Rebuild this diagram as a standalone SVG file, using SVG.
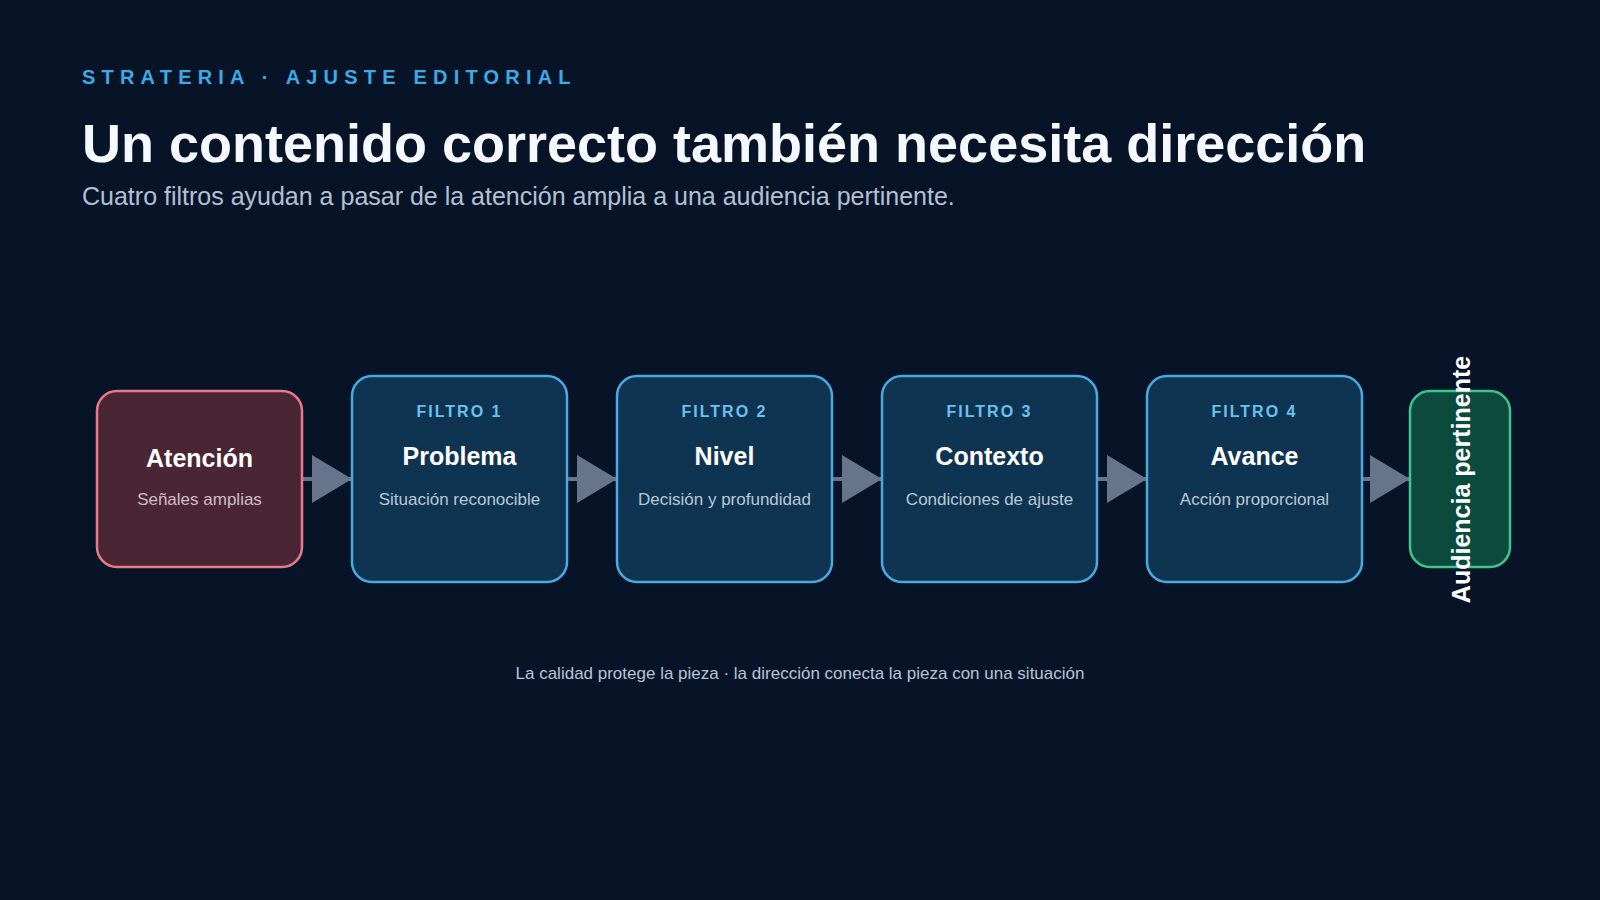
<svg xmlns="http://www.w3.org/2000/svg" width="1600" height="900" viewBox="0 0 1600 900">
  <defs>
    <style>
      text { font-family: "Liberation Sans", Arial, sans-serif; }
      .kicker { font-size: 20px; font-weight: 700; fill: #3ea9e2; letter-spacing: 6.2px; }
      .title { font-size: 54px; font-weight: 700; fill: #f5f8fc; }
      .sub { font-size: 25px; fill: #b2c0d2; }
      .foot { font-size: 17px; fill: #b6c4d6; text-anchor: middle; }
      .box-src { fill: #4a2634; stroke: #e97a8c; stroke-width: 2.5; }
      .box-flt { fill: #0f3451; stroke: #4aa9e0; stroke-width: 2.5; }
      .box-dst { fill: #0b4a3d; stroke: #3fc48c; stroke-width: 2.5; }
      .lbl { font-size: 16px; font-weight: 700; fill: #6cc1ee; letter-spacing: 2px; text-anchor: middle; }
      .name { font-size: 25px; font-weight: 700; fill: #ffffff; text-anchor: middle; }
      .desc { font-size: 17px; fill: #b9c8d8; text-anchor: middle; }
      .desc-src { font-size: 17px; fill: #d2bcc7; text-anchor: middle; }
      .conn { stroke: #66758b; stroke-width: 4; fill: none; }
    </style>
    <marker id="arrow" markerUnits="userSpaceOnUse" markerWidth="40" markerHeight="48" refX="40" refY="24" orient="auto">
      <path d="M0,0 L40,24 L0,48 Z" fill="#66758b"/>
    </marker>
  </defs>

  <rect width="1600" height="900" fill="#071428"/>

  <g id="header">
    <text class="kicker" x="82" y="84">STRATERIA · AJUSTE EDITORIAL</text>
    <text class="title" x="82" y="162">Un contenido correcto también necesita dirección</text>
    <text class="sub" x="82" y="205">Cuatro filtros ayudan a pasar de la atención amplia a una audiencia pertinente.</text>
  </g>

  <g id="connectors">
    <line class="conn" x1="302" y1="479" x2="352" y2="479" marker-end="url(#arrow)"/>
    <line class="conn" x1="567" y1="479" x2="617" y2="479" marker-end="url(#arrow)"/>
    <line class="conn" x1="832" y1="479" x2="882" y2="479" marker-end="url(#arrow)"/>
    <line class="conn" x1="1097" y1="479" x2="1147" y2="479" marker-end="url(#arrow)"/>
    <line class="conn" x1="1362" y1="479" x2="1410" y2="479" marker-end="url(#arrow)"/>
  </g>

  <g id="node-atencion">
    <rect class="box-src" x="97" y="391" width="205" height="176" rx="20"/>
    <text class="name" x="199.5" y="467">Atención</text>
    <text class="desc-src" x="199.5" y="505">Señales amplias</text>
  </g>

  <g id="node-filtro1">
    <rect class="box-flt" x="352" y="376" width="215" height="206" rx="20"/>
    <text class="lbl" x="459.5" y="417">FILTRO 1</text>
    <text class="name" x="459.5" y="465">Problema</text>
    <text class="desc" x="459.5" y="505">Situación reconocible</text>
  </g>

  <g id="node-filtro2">
    <rect class="box-flt" x="617" y="376" width="215" height="206" rx="20"/>
    <text class="lbl" x="724.5" y="417">FILTRO 2</text>
    <text class="name" x="724.5" y="465">Nivel</text>
    <text class="desc" x="724.5" y="505">Decisión y profundidad</text>
  </g>

  <g id="node-filtro3">
    <rect class="box-flt" x="882" y="376" width="215" height="206" rx="20"/>
    <text class="lbl" x="989.5" y="417">FILTRO 3</text>
    <text class="name" x="989.5" y="465">Contexto</text>
    <text class="desc" x="989.5" y="505">Condiciones de ajuste</text>
  </g>

  <g id="node-filtro4">
    <rect class="box-flt" x="1147" y="376" width="215" height="206" rx="20"/>
    <text class="lbl" x="1254.5" y="417">FILTRO 4</text>
    <text class="name" x="1254.5" y="465">Avance</text>
    <text class="desc" x="1254.5" y="505">Acción proporcional</text>
  </g>

  <g id="node-audiencia">
    <rect class="box-dst" x="1410" y="391" width="100" height="176" rx="20"/>
    <text class="name" transform="translate(1470,479.5) rotate(-90)">Audiencia pertinente</text>
  </g>

  <g id="footer">
    <text class="foot" x="800" y="679">La calidad protege la pieza · la dirección conecta la pieza con una situación</text>
  </g>
</svg>
